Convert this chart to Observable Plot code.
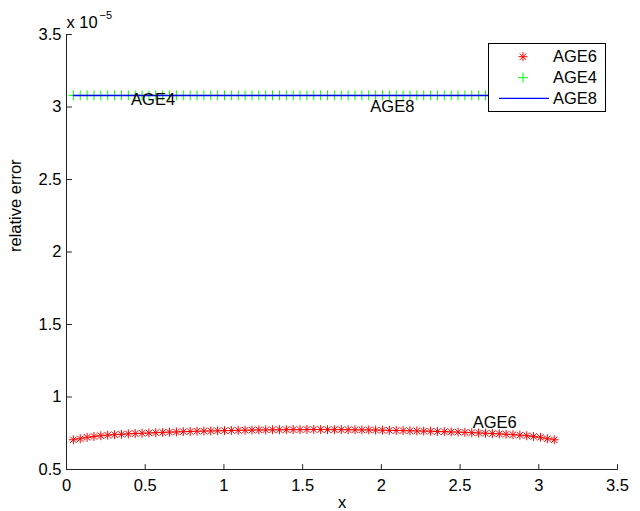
<!DOCTYPE html>
<html>
<head>
<meta charset="utf-8">
<script src="https://cdn.jsdelivr.net/npm/d3@7"></script>
<script src="https://cdn.jsdelivr.net/npm/@observablehq/plot@0.6"></script>
<style>
  html, body { margin: 0; padding: 0; background: #fff; }
  #wrap { position: relative; width: 640px; height: 511px; font-family: "Liberation Sans", Arial, Helvetica, sans-serif; }
  #legend { position: absolute; left: 488px; top: 43px; width: 118px; height: 69px; box-sizing: border-box; border: 1px solid #000; background: #fff; }
  #legend svg { display: block; }
</style>
</head>
<body>
<div id="wrap"></div>
<script>
// ---- data (y values in units of 1e-5) ----
const xs = [0.0436,0.0873,0.1309,0.1745,0.2182,0.2618,0.3054,0.3491,0.3927,0.4363,
  0.4800,0.5236,0.5672,0.6109,0.6545,0.6981,0.7418,0.7854,0.8290,0.8727,
  0.9163,0.9599,1.0036,1.0472,1.0908,1.1345,1.1781,1.2217,1.2654,1.3090,
  1.3526,1.3963,1.4399,1.4835,1.5272,1.5708,1.6144,1.6581,1.7017,1.7453,
  1.7890,1.8326,1.8762,1.9199,1.9635,2.0071,2.0508,2.0944,2.1380,2.1817,
  2.2253,2.2689,2.3126,2.3562,2.3998,2.4435,2.4871,2.5307,2.5744,2.6180,
  2.6616,2.7053,2.7489,2.7925,2.8362,2.8798,2.9234,2.9671,3.0107,3.0543,3.0980];
const age6 = [0.705,0.712,0.722,0.728,0.733,0.737,0.740,0.743,0.746,0.748,
  0.750,0.752,0.754,0.756,0.758,0.759,0.761,0.762,0.764,0.765,
  0.766,0.767,0.768,0.769,0.770,0.771,0.772,0.773,0.773,0.774,
  0.774,0.775,0.775,0.775,0.776,0.776,0.776,0.775,0.775,0.775,
  0.774,0.774,0.773,0.773,0.772,0.771,0.770,0.769,0.768,0.767,
  0.766,0.765,0.764,0.762,0.761,0.759,0.758,0.756,0.754,0.752,
  0.750,0.748,0.746,0.743,0.740,0.737,0.733,0.728,0.722,0.712,0.705];
const age4 = [3.08,3.08,3.08,3.08,3.08,3.08,3.08,3.08,3.08,3.08,
  3.08,3.08,3.08,3.08,3.08,3.08,3.08,3.08,3.08,3.08,
  3.08,3.08,3.08,3.08,3.08,3.08,3.08,3.08,3.08,3.08,
  3.08,3.08,3.08,3.08,3.08,3.08,3.08,3.08,3.08,3.08,
  3.08,3.08,3.08,3.08,3.08,3.08,3.08,3.08,3.08,3.08,
  3.08,3.08,3.08,3.08,3.08,3.08,3.08,3.08,3.08,3.08,
  3.08,3.08,3.08,3.08,3.08,3.08,3.08,3.08,3.08,3.08,3.08];
const age8 = [3.08,3.08,3.08,3.08,3.08,3.08,3.08,3.08,3.08,3.08,
  3.08,3.08,3.08,3.08,3.08,3.08,3.08,3.08,3.08,3.08,
  3.08,3.08,3.08,3.08,3.08,3.08,3.08,3.08,3.08,3.08,
  3.08,3.08,3.08,3.08,3.08,3.08,3.08,3.08,3.08,3.08,
  3.08,3.08,3.08,3.08,3.08,3.08,3.08,3.08,3.08,3.08,
  3.08,3.08,3.08,3.08,3.08,3.08,3.08,3.08,3.08,3.08,
  3.08,3.08,3.08,3.08,3.08,3.08,3.08,3.08,3.08,3.08,3.08];
const seriesNames = ["AGE6", "AGE4", "AGE8"];
const seriesColors = ["#ff0000", "#00ff00", "#0000ff"];
const xTicks = [0, 0.5, 1, 1.5, 2, 2.5, 3, 3.5];
const yTicks = [0.5, 1, 1.5, 2, 2.5, 3, 3.5];
const annotText = ["AGE4", "AGE8", "AGE6"];
const annotX = [0.41, 1.93, 2.58];
const annotY = [3.05, 3.0, 0.826];
const xLabel = "x";
const yLabel = "relative error";
const expBase = "x 10";
const expPower = "\u22125";

// ---- build tables ----
const rows6 = xs.map((x, i) => ({x, y: age6[i]}));
const rows4 = xs.map((x, i) => ({x, y: age4[i]}));
const rows8 = xs.map((x, i) => ({x, y: age8[i]}));
const annots = annotText.map((t, i) => ({t, x: annotX[i], y: annotY[i]}));

const font = '"Liberation Sans", Arial, Helvetica, sans-serif';
const fs = 16.5;
const axisColor = "#222";
const fmt = d => String(d);
const tickShape = {draw(context, l) { context.moveTo(0, 0); context.lineTo(0, -l); }};

const chart = Plot.plot({
  width: 640, height: 511,
  marginLeft: 66, marginRight: 23, marginTop: 34, marginBottom: 42,
  style: {fontFamily: font, fontSize: fs + "px", color: "#000", background: "#fff", overflow: "visible"},
  x: {domain: [xTicks[0], xTicks[xTicks.length - 1]]},
  y: {domain: [yTicks[0], yTicks[yTicks.length - 1]]},
  marks: [
    Plot.axisX({ticks: xTicks, tickFormat: fmt, tickSize: 0, tickPadding: 10, label: null, fontSize: fs}),
    Plot.axisY({ticks: yTicks, tickFormat: fmt, tickSize: 0, tickPadding: 5, label: null, fontSize: fs}),
    Plot.ruleY([yTicks[0]], {stroke: axisColor}),
    Plot.ruleX([xTicks[0]], {stroke: axisColor}),
    Plot.vector(xTicks, {x: d => d, frameAnchor: "bottom", length: 5, rotate: 0, anchor: "start", shape: tickShape, stroke: axisColor, strokeWidth: 1}),
    Plot.vector(yTicks, {y: d => d, frameAnchor: "left", length: 5, rotate: 90, anchor: "start", shape: tickShape, stroke: axisColor, strokeWidth: 1}),
    Plot.dot(rows6, {x: "x", y: "y", symbol: "plus", r: 3, stroke: seriesColors[0], strokeWidth: 1}),
    Plot.dot(rows6, {x: "x", y: "y", symbol: "times", r: 3, stroke: seriesColors[0], strokeWidth: 1}),
    Plot.dot(rows4, {x: "x", y: "y", symbol: "plus", r: 3.3, stroke: seriesColors[1], strokeWidth: 1}),
    Plot.line(rows8, {x: "x", y: "y", stroke: seriesColors[2], strokeWidth: 1.5}),
    Plot.text(annots, {x: "x", y: "y", text: "t", textAnchor: "start", fontSize: fs, fill: "#000"}),
    Plot.text([xLabel], {frameAnchor: "bottom", dy: 38, lineAnchor: "bottom", fontSize: fs}),
    Plot.text([yLabel], {frameAnchor: "left", rotate: -90, dx: -51, fontSize: fs}),
    Plot.text([expBase], {frameAnchor: "top-left", textAnchor: "start", lineAnchor: "bottom", dy: -7, fontSize: fs}),
    Plot.text([expPower], {frameAnchor: "top-left", textAnchor: "start", lineAnchor: "bottom", dx: 33, dy: -16, fontSize: 11})
  ]
});
const wrap = document.getElementById("wrap");
wrap.appendChild(chart);

// ---- legend (MATLAB-style box) ----
const legend = document.createElement("div");
legend.id = "legend";
const ns = "http://www.w3.org/2000/svg";
const lsvg = document.createElementNS(ns, "svg");
lsvg.setAttribute("width", 116);
lsvg.setAttribute("height", 67);
const rowY = [12.7, 33.7, 54.3];
const mk = (tag, attrs) => { const e = document.createElementNS(ns, tag); for (const k in attrs) e.setAttribute(k, attrs[k]); lsvg.appendChild(e); return e; };
seriesNames.forEach((name, i) => {
  const y = rowY[i], cx = 34;
  if (i === 0) {
    mk("path", {d: `M${cx-4.5},${y}H${cx+4.5}M${cx},${y-4.5}V${y+4.5}M${cx-3.2},${y-3.2}L${cx+3.2},${y+3.2}M${cx-3.2},${y+3.2}L${cx+3.2},${y-3.2}`, stroke: seriesColors[i], fill: "none", "stroke-width": 1});
  } else if (i === 1) {
    mk("path", {d: `M${cx-5},${y}H${cx+5}M${cx},${y-5}V${y+5}`, stroke: seriesColors[i], fill: "none", "stroke-width": 1});
  } else {
    mk("line", {x1: 10, x2: 60, y1: y, y2: y, stroke: seriesColors[i], "stroke-width": 1.2});
  }
  const t = mk("text", {x: 64, y: y, dy: "0.35em", "font-size": fs, "font-family": font, fill: "#000"});
  t.textContent = name;
});
legend.appendChild(lsvg);
wrap.appendChild(legend);
</script>
</body>
</html>
